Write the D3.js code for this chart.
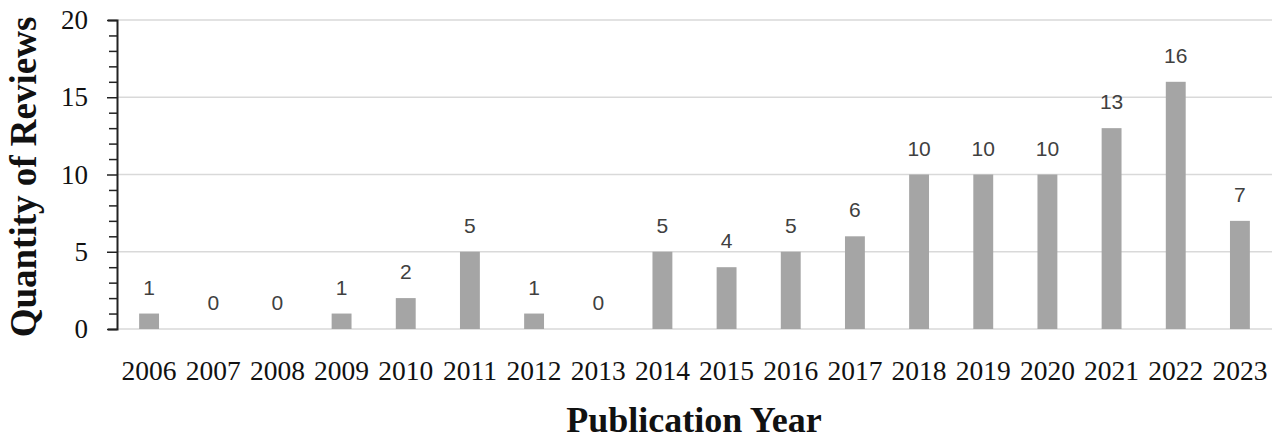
<!DOCTYPE html>
<html><head><meta charset="utf-8">
<script src="https://cdn.jsdelivr.net/npm/d3@7"></script>
<style>body{margin:0;background:#fff}</style>
</head><body>
<svg id="c" width="1280" height="441"></svg>
<script>
const years = ["2006","2007","2008","2009","2010","2011","2012","2013","2014","2015","2016","2017","2018","2019","2020","2021","2022","2023"];
const counts = [1,0,0,1,2,5,1,0,5,4,5,6,10,10,10,13,16,7];
const yTicks = [0,5,10,15,20];

const svg = d3.select("#c");
const L = 117, R = 1272, T = 20, B = 329;
const x = d3.scaleBand().domain(years).range([L, R]).paddingInner(0.69).paddingOuter(0.345);
const y = d3.scaleLinear().domain([0, 20]).range([B, T]);

// gridlines
svg.append("g").selectAll("line").data(yTicks.filter(d => d > 0)).join("line")
  .attr("x1", L).attr("x2", R).attr("y1", d => y(d)).attr("y2", d => y(d))
  .attr("stroke", "#d9d9d9").attr("stroke-width", 1.3);
svg.append("line").attr("x1", L).attr("x2", R).attr("y1", B).attr("y2", B)
  .attr("stroke", "#d9d9d9").attr("stroke-width", 1.3);

// bars
svg.append("g").selectAll("rect").data(counts).join("rect")
  .attr("x", (d, i) => x(years[i])).attr("width", x.bandwidth())
  .attr("y", d => y(d)).attr("height", d => B - y(d))
  .attr("fill", "#a5a5a5");

// data labels
svg.append("g").selectAll("text").data(counts).join("text")
  .attr("x", (d, i) => x(years[i]) + x.bandwidth() / 2)
  .attr("y", d => y(d) - 19)
  .attr("text-anchor", "middle")
  .attr("font-family", "Liberation Sans, Arial, sans-serif")
  .attr("font-size", 21).attr("fill", "#404040")
  .text(d => d);

// y axis
const yAxis = d3.axisLeft(y).tickValues(d3.range(0, 21, 1)).tickSize(9).tickFormat(d => yTicks.includes(d) ? d : "");
const ga = svg.append("g").attr("transform", `translate(${L},0)`).call(yAxis);
ga.select(".domain").attr("stroke", "#222").attr("stroke-width", 2);
ga.selectAll(".tick line").attr("stroke", "#222").attr("stroke-width", 1.5)
  .attr("x2", d => yTicks.includes(d) ? -10 : -8);
ga.selectAll(".tick text").attr("x", -29)
  .attr("font-family", "Liberation Serif, serif").attr("font-size", 27).attr("fill", "#111");

// x labels
const xAxis = d3.axisBottom(x).tickSize(0);
const gx = svg.append("g").attr("transform", `translate(0,${B})`).call(xAxis);
gx.select(".domain").remove();
gx.selectAll(".tick text").attr("y", 51).attr("dy", 0)
  .attr("font-family", "Liberation Serif, serif").attr("font-size", 27.5).attr("fill", "#111");

// titles
svg.append("text").attr("x", 694).attr("y", 432).attr("text-anchor", "middle")
  .attr("font-family", "Liberation Serif, serif").attr("font-weight", "bold").attr("font-size", 36)
  .attr("fill", "#111").text("Publication Year");
svg.append("text").attr("transform", "translate(36,177) rotate(-90)").attr("text-anchor", "middle")
  .attr("font-family", "Liberation Serif, serif").attr("font-weight", "bold").attr("font-size", 37)
  .attr("fill", "#111").text("Quantity of Reviews");
</script>
</body></html>
